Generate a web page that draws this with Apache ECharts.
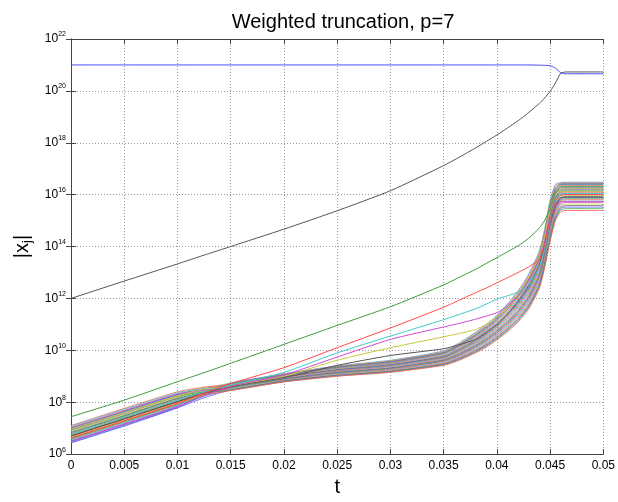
<!DOCTYPE html>
<html>
<head>
<meta charset="utf-8">
<script src="https://cdn.jsdelivr.net/npm/echarts@6/dist/echarts.min.js"></script>
<style>
html,body{margin:0;padding:0;background:#fff;}
#chart{width:618px;height:502px;}
</style>
</head>
<body>
<div id="chart"></div>
<script>
// time grid (t) shared by every curve
const T = [0, 0.005, 0.01, 0.0125, 0.015, 0.02, 0.025, 0.03, 0.035, 0.0365, 0.038, 0.039, 0.04, 0.041, 0.042, 0.043, 0.044, 0.0445, 0.045, 0.0455, 0.046, 0.0465, 0.05];

// values, stored as log10 |x_j|
const blueLog    = [21, 21, 21, 21, 21, 21, 21, 21, 21, 21, 21, 21, 21, 21, 21, 21, 20.99, 20.985, 20.97, 20.88, 20.7, 20.66, 20.66];
const blackLog   = [12.0, 12.67, 13.33, 13.67, 14.0, 14.67, 15.38, 16.15, 17.12, 17.45, 17.8, 18.05, 18.3, 18.57, 18.85, 19.17, 19.52, 19.73, 19.98, 20.3, 20.68, 20.73, 20.73];
const greenLog   = [7.44, 8.08, 8.79, 9.14, 9.5, 10.23, 10.96, 11.68, 12.52, 12.82, 13.12, 13.35, 13.57, 13.8, 14.03, 14.32, 14.72, 15.02, 15.45, 16.05, 16.28, 16.3, 16.3];
const redLog     = [6.62, 7.28, 7.95, 8.35, 8.72, 9.33, 10.1, 10.86, 11.66, 11.94, 12.22, 12.4, 12.6, 12.8, 13.0, 13.22, 13.52, 14.1, 15.0, 15.75, 15.98, 16.0, 16.0];
const cyanLog    = [6.76, 7.42, 8.08, 8.4, 8.66, 9.15, 9.9, 10.55, 11.18, 11.39, 11.6, 11.78, 11.97, 12.1, 12.25, 12.5, 13.25, 13.95, 14.95, 15.8, 16.03, 16.04, 16.04];
const magentaLog = [6.5, 7.15, 7.83, 8.25, 8.62, 9.05, 9.74, 10.42, 10.9, 11.04, 11.2, 11.32, 11.45, 11.7, 12.1, 12.7, 13.5, 14.2, 15.1, 15.6, 15.72, 15.73, 15.73];
const yellowLog  = [6.96, 7.6, 8.25, 8.5, 8.64, 9.0, 9.62, 10.1, 10.52, 10.65, 10.8, 11.0, 11.28, 11.65, 12.15, 12.8, 13.65, 14.45, 15.5, 16.0, 16.13, 16.14, 16.14];
const grayLog    = [6.7, 7.36, 8.02, 8.35, 8.6, 8.95, 9.42, 9.8, 10.06, 10.22, 10.42, 10.7, 11.0, 11.4, 11.9, 12.5, 13.3, 14.0, 14.9, 15.6, 15.88, 15.9, 15.9];

// the dense bundle of remaining components (log10 values), one row per component
const bundleLog = [
  [6.85, 7.50, 8.17, 8.50, 8.74, 9.10, 9.40, 9.62, 9.98, 10.30, 10.70, 11.00, 11.35, 11.80, 12.30, 12.95, 13.85, 14.70, 15.80, 16.40, 16.47, 16.48, 16.48],
  [6.60, 7.27, 7.93, 8.37, 8.73, 9.09, 9.39, 9.60, 9.96, 10.27, 10.67, 10.97, 11.31, 11.76, 12.26, 12.90, 13.80, 14.64, 15.74, 16.35, 16.45, 16.46, 16.46],
  [7.05, 7.70, 8.34, 8.57, 8.71, 9.08, 9.37, 9.59, 9.94, 10.25, 10.64, 10.93, 11.28, 11.72, 12.21, 12.85, 13.74, 14.59, 15.68, 16.30, 16.43, 16.44, 16.44],
  [6.48, 7.14, 7.82, 8.31, 8.72, 9.06, 9.36, 9.57, 9.92, 10.22, 10.61, 10.90, 11.24, 11.68, 12.17, 12.80, 13.69, 14.53, 15.62, 16.24, 16.41, 16.42, 16.42],
  [6.95, 7.61, 8.27, 8.52, 8.69, 9.05, 9.34, 9.55, 9.90, 10.20, 10.58, 10.87, 11.21, 11.64, 12.12, 12.75, 13.64, 14.48, 15.56, 16.19, 16.39, 16.40, 16.40],
  [6.72, 7.38, 8.05, 8.42, 8.70, 9.04, 9.33, 9.53, 9.88, 10.17, 10.55, 10.84, 11.17, 11.60, 12.08, 12.70, 13.58, 14.42, 15.50, 16.14, 16.36, 16.37, 16.37],
  [7.10, 7.76, 8.40, 8.58, 8.67, 9.03, 9.31, 9.52, 9.86, 10.15, 10.52, 10.80, 11.14, 11.56, 12.03, 12.65, 13.53, 14.37, 15.44, 16.09, 16.33, 16.34, 16.34],
  [6.55, 7.21, 7.88, 8.32, 8.67, 9.02, 9.30, 9.50, 9.84, 10.12, 10.49, 10.77, 11.10, 11.52, 11.99, 12.60, 13.47, 14.31, 15.38, 16.04, 16.30, 16.31, 16.31],
  [6.90, 7.55, 8.22, 8.48, 8.65, 9.01, 9.28, 9.48, 9.81, 10.10, 10.46, 10.74, 11.07, 11.48, 11.94, 12.55, 13.42, 14.26, 15.33, 15.99, 16.26, 16.27, 16.27],
  [6.66, 7.31, 7.99, 8.36, 8.65, 8.99, 9.27, 9.46, 9.79, 10.07, 10.43, 10.71, 11.03, 11.44, 11.90, 12.50, 13.37, 14.20, 15.27, 15.93, 16.22, 16.24, 16.24],
  [7.00, 7.66, 8.31, 8.51, 8.62, 8.98, 9.25, 9.45, 9.77, 10.05, 10.40, 10.67, 11.00, 11.40, 11.86, 12.45, 13.31, 14.14, 15.21, 15.88, 16.19, 16.21, 16.21],
  [6.45, 7.10, 7.80, 8.26, 8.63, 8.97, 9.24, 9.43, 9.75, 10.02, 10.37, 10.64, 10.96, 11.36, 11.81, 12.40, 13.26, 14.09, 15.15, 15.83, 16.15, 16.17, 16.17],
  [6.80, 7.46, 8.13, 8.41, 8.61, 8.96, 9.22, 9.41, 9.73, 10.00, 10.34, 10.61, 10.93, 11.32, 11.77, 12.35, 13.21, 14.03, 15.09, 15.78, 16.11, 16.13, 16.13],
  [6.62, 7.28, 7.96, 8.32, 8.60, 8.95, 9.21, 9.39, 9.71, 9.97, 10.31, 10.58, 10.89, 11.28, 11.72, 12.30, 13.15, 13.98, 15.03, 15.73, 16.07, 16.09, 16.09],
  [7.08, 7.73, 8.37, 8.52, 8.58, 8.93, 9.19, 9.38, 9.69, 9.95, 10.29, 10.54, 10.86, 11.24, 11.68, 12.25, 13.10, 13.92, 14.97, 15.67, 16.02, 16.05, 16.05],
  [6.52, 7.18, 7.86, 8.27, 8.59, 8.92, 9.18, 9.36, 9.67, 9.92, 10.26, 10.51, 10.82, 11.20, 11.63, 12.20, 13.04, 13.87, 14.91, 15.62, 15.98, 16.01, 16.01],
  [6.88, 7.53, 8.20, 8.43, 8.57, 8.91, 9.16, 9.34, 9.65, 9.90, 10.23, 10.48, 10.79, 11.16, 11.59, 12.15, 12.99, 13.81, 14.85, 15.57, 15.94, 15.97, 15.97],
  [6.70, 7.36, 8.03, 8.34, 8.56, 8.90, 9.15, 9.32, 9.63, 9.87, 10.20, 10.45, 10.75, 11.12, 11.54, 12.10, 12.94, 13.76, 14.79, 15.52, 15.89, 15.93, 15.93],
  [6.98, 7.64, 8.29, 8.46, 8.54, 8.89, 9.13, 9.31, 9.61, 9.85, 10.17, 10.41, 10.72, 11.08, 11.50, 12.05, 12.88, 13.70, 14.73, 15.47, 15.84, 15.88, 15.88],
  [6.58, 7.24, 7.91, 8.27, 8.54, 8.87, 9.12, 9.29, 9.59, 9.82, 10.14, 10.38, 10.68, 11.04, 11.46, 12.00, 12.83, 13.64, 14.67, 15.41, 15.80, 15.84, 15.84],
  [6.76, 7.42, 8.09, 8.35, 8.53, 8.86, 9.10, 9.27, 9.57, 9.80, 10.11, 10.35, 10.65, 11.00, 11.41, 11.95, 12.78, 13.59, 14.61, 15.36, 15.76, 15.80, 15.80],
  [6.50, 7.16, 7.84, 8.22, 8.52, 8.85, 9.09, 9.25, 9.54, 9.77, 10.08, 10.32, 10.61, 10.96, 11.37, 11.90, 12.72, 13.53, 14.56, 15.31, 15.70, 15.75, 15.75],
  [7.03, 7.68, 8.32, 8.45, 8.49, 8.84, 9.07, 9.24, 9.52, 9.75, 10.05, 10.28, 10.58, 10.92, 11.32, 11.85, 12.67, 13.48, 14.50, 15.26, 15.65, 15.70, 15.70],
  [6.64, 7.30, 7.97, 8.27, 8.49, 8.83, 9.06, 9.22, 9.50, 9.72, 10.02, 10.25, 10.54, 10.88, 11.28, 11.80, 12.61, 13.42, 14.44, 15.21, 15.59, 15.64, 15.64],
  [6.83, 7.48, 8.15, 8.35, 8.47, 8.82, 9.04, 9.20, 9.48, 9.70, 9.99, 10.22, 10.51, 10.84, 11.23, 11.75, 12.56, 13.37, 14.38, 15.16, 15.53, 15.58, 15.58],
  [6.43, 7.08, 7.78, 8.17, 8.47, 8.80, 9.03, 9.18, 9.46, 9.67, 9.96, 10.19, 10.47, 10.80, 11.19, 11.70, 12.51, 13.31, 14.32, 15.10, 15.47, 15.52, 15.52],
  [6.93, 7.58, 8.24, 8.39, 8.46, 8.79, 9.01, 9.17, 9.44, 9.65, 9.93, 10.15, 10.44, 10.76, 11.14, 11.65, 12.45, 13.26, 14.26, 15.05, 15.41, 15.46, 15.46],
  [6.68, 7.34, 8.01, 8.27, 8.45, 8.78, 9.00, 9.15, 9.42, 9.62, 9.90, 10.12, 10.40, 10.72, 11.10, 11.60, 12.40, 13.20, 14.20, 15.00, 15.34, 15.39, 15.39]
];

// tick values / labels
const xTicks = [0, 0.005, 0.01, 0.015, 0.02, 0.025, 0.03, 0.035, 0.04, 0.045, 0.05];
const yExponents = [6, 8, 10, 12, 14, 16, 18, 20, 22];

const C = {b:'#4a4aff', g:'#3c9c3c', r:'#ff4a4a', c:'#40c8c8', m:'#d048d0', y:'#c8c840', k:'#555555'};
const bundleCycle = ['#5a5aff', '#44a844', '#ff5555', '#44cccc', '#d855d8', '#cccc44', '#6a6a6a'];

function toPairs(logs) {
  return T.map((t, i) => [t, Math.pow(10, logs[i])]);
}
function lineSeries(logs, color, z, w) {
  return {
    type: 'line', data: toPairs(logs), showSymbol: false, symbol: 'none',
    smooth: 0.2,
    lineStyle: {color: color, width: w || 1}, itemStyle: {color: color},
    silent: true, animation: false, z: z || 2, xAxisIndex: 0, yAxisIndex: 0
  };
}

const series = [];
bundleLog.forEach((arr, k) => series.push(lineSeries(arr, bundleCycle[(k + 3) % 7], 2, 0.8)));
series.push(lineSeries(grayLog, C.k, 3));
series.push(lineSeries(yellowLog, C.y, 3));
series.push(lineSeries(magentaLog, C.m, 3));
series.push(lineSeries(cyanLog, C.c, 3));
series.push(lineSeries(redLog, C.r, 3));
series.push(lineSeries(greenLog, C.g, 3));
series.push(lineSeries(blackLog, C.k, 3));
series.push(lineSeries(blueLog, C.b, 3));

const FONT = 'Liberation Sans, Arial, sans-serif';
const axisLineColor = '#444';

const chart = echarts.init(document.getElementById('chart'), null, {renderer: 'canvas'});
chart.setOption({
  backgroundColor: '#fff',
  animation: false,
  title: {
    text: 'Weighted truncation, p=7',
    left: 338, top: 7, textAlign: 'center',
    textStyle: {fontFamily: FONT, fontSize: 20, fontWeight: 'normal', color: '#000'}
  },
  grid: {left: 71, right: 13, top: 39, bottom: 42, containLabel: false},
  xAxis: [{
    type: 'value', min: 0, max: 0.05, interval: 0.005,
    name: 't', nameLocation: 'middle', nameGap: 21,
    nameTextStyle: {fontSize: 20, fontFamily: FONT, color: '#000'},
    axisLine: {show: true, lineStyle: {color: axisLineColor, width: 1}},
    axisTick: {show: true, inside: true, length: 5, lineStyle: {color: axisLineColor}},
    axisLabel: {fontSize: 12, margin: 6, fontFamily: FONT, color: '#000',
      formatter: v => { const hit = xTicks.find(x => Math.abs(x - v) < 1e-9); return String(+(hit !== undefined ? hit : v).toFixed(3)); }},
    splitLine: {show: true, lineStyle: {color: '#999', type: [1, 2], width: 1}}
  }, {
    type: 'value', min: 0, max: 0.05, interval: 0.005, position: 'top',
    axisLine: {show: true, lineStyle: {color: axisLineColor, width: 1}},
    axisTick: {show: true, inside: true, length: 5, lineStyle: {color: axisLineColor}},
    axisLabel: {show: false}, splitLine: {show: false}
  }],
  yAxis: [{
    type: 'log', logBase: 10, min: 1e6, max: 1e22, interval: 2,
    name: '|x{sub|j}|', nameLocation: 'middle', nameGap: 36, nameRotate: 90,
    nameTextStyle: {fontSize: 20, fontFamily: FONT, color: '#000',
      rich: {sub: {fontSize: 13, fontFamily: FONT, color: '#000', padding: [10, 0, 0, 0]}}},
    axisLine: {show: true, lineStyle: {color: axisLineColor, width: 1}},
    axisTick: {show: true, inside: true, length: 5, lineStyle: {color: axisLineColor}},
    axisLabel: {
      margin: 5,
      formatter: v => '{b|10}{s|' + Math.round(Math.log10(v)) + '}',
      rich: {
        b: {fontSize: 12, fontFamily: FONT, color: '#000'},
        s: {fontSize: 7, fontFamily: FONT, color: '#000', verticalAlign: 'top', padding: [0, 0, 9, 0]}
      }
    },
    splitLine: {show: true, lineStyle: {color: '#999', type: [1, 2], width: 1}}
  }, {
    type: 'log', logBase: 10, min: 1e6, max: 1e22, interval: 2, position: 'right',
    axisLine: {show: true, lineStyle: {color: axisLineColor, width: 1}},
    axisTick: {show: true, inside: true, length: 5, lineStyle: {color: axisLineColor}},
    axisLabel: {show: false}, splitLine: {show: false}
  }],
  series: series
});
</script>
</body>
</html>
